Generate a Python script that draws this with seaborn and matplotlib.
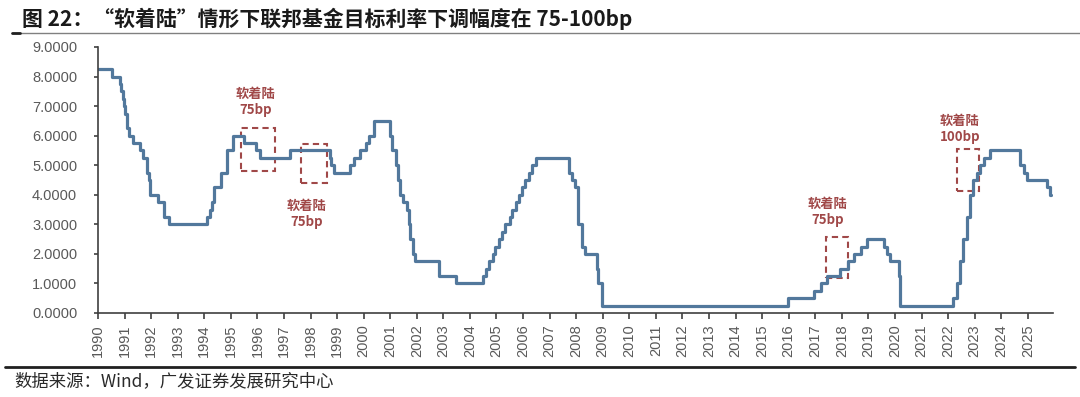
import matplotlib
matplotlib.use("Agg")
import matplotlib.pyplot as plt
from matplotlib.patches import Rectangle
import seaborn as sns
import numpy as np
import pandas as pd

# Fed funds target rate (upper bound), change dates and new level
change_dates = [
    "1990-01-01", "1990-07-13", "1990-10-29", "1990-11-14", "1990-12-07", "1990-12-19",
    "1991-01-09", "1991-02-01", "1991-03-08", "1991-04-30", "1991-08-06", "1991-09-13",
    "1991-10-31", "1991-11-06", "1991-12-06", "1991-12-20", "1992-04-09", "1992-07-02",
    "1992-09-04", "1994-02-04", "1994-03-22", "1994-04-18", "1994-05-17", "1994-08-16",
    "1994-11-15", "1995-02-01", "1995-07-06", "1995-12-19", "1996-01-31", "1997-03-25",
    "1998-09-29", "1998-10-15", "1998-11-17", "1999-06-30", "1999-08-24", "1999-11-16",
    "2000-02-02", "2000-03-21", "2000-05-16", "2001-01-03", "2001-01-31", "2001-03-20",
    "2001-04-18", "2001-05-15", "2001-06-27", "2001-08-21", "2001-09-17", "2001-10-02",
    "2001-11-06", "2001-12-11", "2002-11-06", "2003-06-25", "2004-06-30", "2004-08-10",
    "2004-09-21", "2004-11-10", "2004-12-14", "2005-02-02", "2005-03-22", "2005-05-03",
    "2005-06-30", "2005-08-09", "2005-09-20", "2005-11-01", "2005-12-13", "2006-01-31",
    "2006-03-28", "2006-05-10", "2006-06-29", "2007-09-18", "2007-10-31", "2007-12-11",
    "2008-01-22", "2008-01-30", "2008-03-18", "2008-04-30", "2008-10-08", "2008-10-29",
    "2008-12-16", "2015-12-16", "2016-12-14", "2017-03-15", "2017-06-14", "2017-12-13",
    "2018-03-21", "2018-06-13", "2018-09-26", "2018-12-19", "2019-07-31", "2019-09-18",
    "2019-10-30", "2020-03-03", "2020-03-15", "2022-03-16", "2022-05-04", "2022-06-15",
    "2022-07-27", "2022-09-21", "2022-11-02", "2022-12-14", "2023-02-01", "2023-03-22",
    "2023-05-03", "2023-07-26", "2024-09-18", "2024-11-07", "2024-12-18", "2025-09-17",
    "2025-10-29", "2025-11-15",
]
rates = [
    8.25, 8.00, 7.75, 7.50, 7.25, 7.00,
    6.75, 6.25, 6.00, 5.75, 5.50, 5.25,
    5.00, 4.75, 4.50, 4.00, 3.75, 3.25,
    3.00, 3.25, 3.50, 3.75, 4.25, 4.75,
    5.50, 6.00, 5.75, 5.50, 5.25, 5.50,
    5.25, 5.00, 4.75, 5.00, 5.25, 5.50,
    5.75, 6.00, 6.50, 6.00, 5.50, 5.00,
    4.50, 4.00, 3.75, 3.50, 3.00, 2.50,
    2.00, 1.75, 1.25, 1.00, 1.25, 1.50,
    1.75, 2.00, 2.25, 2.50, 2.75, 3.00,
    3.25, 3.50, 3.75, 4.00, 4.25, 4.50,
    4.75, 5.00, 5.25, 4.75, 4.50, 4.25,
    3.50, 3.00, 2.25, 2.00, 1.50, 1.00,
    0.25, 0.50, 0.75, 1.00, 1.25, 1.50,
    1.75, 2.00, 2.25, 2.50, 2.25, 2.00,
    1.75, 1.25, 0.25, 0.50, 1.00, 1.75,
    2.50, 3.25, 4.00, 4.50, 4.75, 5.00,
    5.25, 5.50, 5.00, 4.75, 4.50, 4.25,
    4.00, 4.00,
]

years = list(range(1990, 2026))
y_ticks = [0, 1, 2, 3, 4, 5, 6, 7, 8, 9]

# soft-landing boxes: (x0, x1, y0, y1) in year / percent, and label positions
boxes = [(1995.39, 1996.67, 4.80, 6.27), (1997.65, 1998.63, 4.39, 5.71),
         (2017.39, 2018.23, 1.17, 2.58), (2022.33, 2023.17, 4.14, 5.55)]
labels = ["软着陆\n75bp", "软着陆\n75bp", "软着陆\n75bp", "软着陆\n100bp"]
label_pos = [(1995.92, 7.14), (1997.85, 3.35), (2017.45, 3.42), (2022.45, 6.22)]

d = pd.to_datetime(change_dates)
frac_year = d.year + (d.dayofyear - 1) / np.where(d.is_leap_year, 366, 365)
df = pd.DataFrame({"t": frac_year, "rate": rates})

sns.set_theme(style="ticks")
plt.rcParams["font.family"] = ["Liberation Sans", "Noto Sans CJK SC", "DejaVu Sans"]

fig = plt.figure(figsize=(10.8, 3.97), dpi=100)
ax = fig.add_axes([98 / 1080, 1 - 313 / 397, (1053 - 98) / 1080, (313 - 47) / 397])

line_col = "#52789c"
red = "#a04848"
grey = "#595959"

sns.lineplot(data=df, x="t", y="rate", ax=ax, color=line_col, lw=2.3,
             drawstyle="steps-post", sort=False, estimator=None)

for (x0, x1, y0, y1), txt, (tx, ty) in zip(boxes, labels, label_pos):
    ax.add_patch(Rectangle((x0, y0), x1 - x0, y1 - y0, fill=False, ec=red,
                           lw=1.5, ls=(0, (3, 2))))
    ax.text(tx, ty, txt, ha="center", va="center", color=red, fontsize=9.5,
            fontweight="bold", linespacing=1.15,
            family=["Noto Sans CJK SC", "DejaVu Sans"])

ax.set_xlim(1990, 2025.95)
ax.set_ylim(0, 9)
ax.set_xticks(years)
ax.set_xticklabels([str(y) for y in years], rotation=90)
ax.set_yticks(y_ticks)
ax.set_yticklabels([f"{v:.4f}" for v in y_ticks])
ax.set_xlabel("")
ax.set_ylabel("")
ax.tick_params(axis="y", length=3, width=1.2, pad=12, colors="#404040",
               labelcolor=grey, labelsize=10.5)
ax.tick_params(axis="x", length=4, width=1.2, pad=4, colors="#404040",
               labelcolor=grey, labelsize=10.5)
for s in ["top", "right"]:
    ax.spines[s].set_visible(False)
for s in ["left", "bottom"]:
    ax.spines[s].set_color("#404040")
    ax.spines[s].set_linewidth(1.2)

# title, rules and source
fig.text(22 / 1080, 1 - 19 / 397, "图 22：“软着陆”情形下联邦基金目标利率下调幅度在 75-100bp",
         ha="left", va="center", fontsize=15, fontweight="bold", color="#1a1a1a",
         family=["Noto Sans CJK SC", "DejaVu Sans"])
fig.add_artist(plt.Line2D([12 / 1080, 1.0], [1 - 33 / 397] * 2, color="#808080", lw=1.0))
fig.add_artist(plt.Line2D([12 / 1080, 20 / 1080], [1 - 33 / 397] * 2, color="#202020", lw=2.0))
fig.add_artist(plt.Line2D([5 / 1080, 1075 / 1080], [1 - 367 / 397] * 2, color="#202020", lw=2.0))
fig.text(14 / 1080, 1 - 381 / 397, "数据来源：Wind，广发证券发展研究中心",
         ha="left", va="center", fontsize=12.5, color="#2a2a2a",
         family=["Noto Sans CJK SC", "DejaVu Sans"])

fig.savefig("out.png", dpi=100)
